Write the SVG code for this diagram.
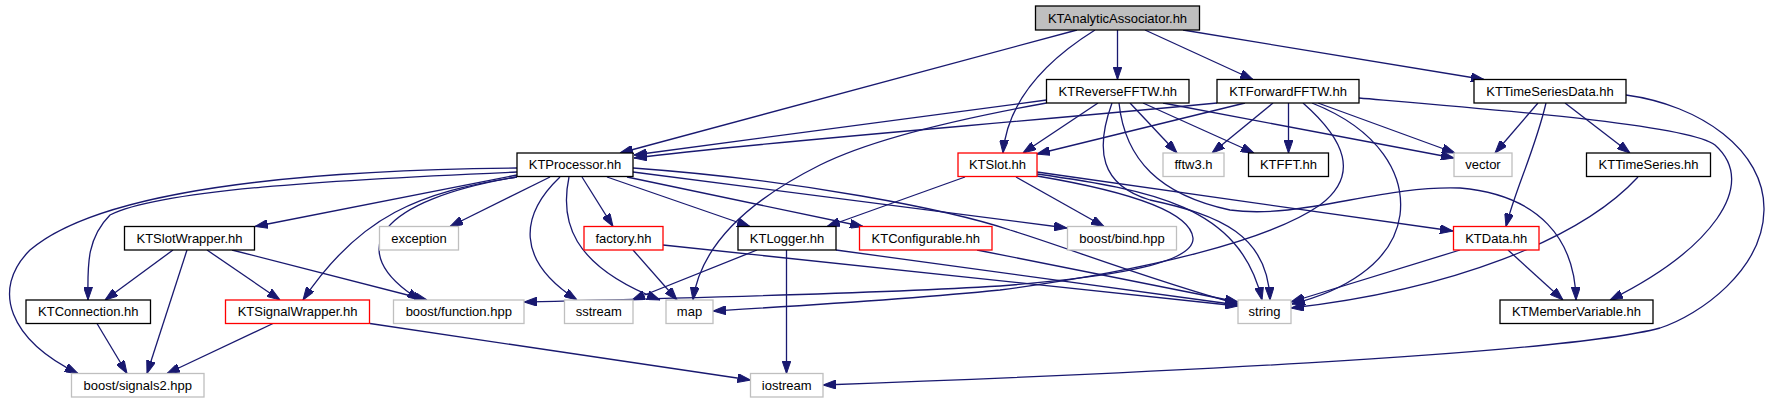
<svg xmlns="http://www.w3.org/2000/svg" width="1770" height="403" viewBox="0 0 1770 403">
<defs>
<marker id="a" viewBox="0 0 13 9" refX="13" refY="4.5" markerWidth="13" markerHeight="9" orient="auto" markerUnits="userSpaceOnUse"><path d="M0,0 L13,4.5 L0,9 Z" fill="#191970" stroke="#191970"/></marker>
<style>
.e path{fill:none;stroke:#191970;stroke-width:1.3;marker-end:url(#a)}
rect{fill:#fff;stroke:#000;stroke-width:1.3}
.g rect{stroke:#bfbfbf}
.r rect{stroke:#ff0000}
.root rect{fill:#bfbfbf;stroke:#000}
text{font-family:"Liberation Sans",Arial,Helvetica,sans-serif;font-size:13px;text-anchor:middle;fill:#000}
</style>
</defs>
<rect x="0" y="0" width="1770" height="403" style="fill:#fff;stroke:none"/>
<g class="e" id="edges">
<path d="M1077,30 L620,153"/>
<path d="M1095,30 C1055,55 1008,95 1003,153"/>
<path d="M1117.5,30 L1117.5,79.5"/>
<path d="M1145,30 L1253,79.5"/>
<path d="M1183,30 L1484,79.5"/>
<path d="M1046.5,100 L634,155"/>
<path d="M1046.5,103 C980,115 880,135 820,165 C740,205 700,250 693,300"/>
<path d="M1098,103 L1023,153"/>
<path d="M1130,103 L1177,153"/>
<path d="M1143,103 L1254,153"/>
<path d="M1163,103 L1454,158"/>
<path d="M1112,103 C1095,150 1100,185 1150,200 C1220,215 1268,235 1270,300"/>
<path d="M1119,103 C1125,160 1160,195 1230,210 C1300,220 1380,185 1460,188 C1540,195 1575,240 1576,300"/>
<path d="M1217,103 C1000,124 760,142 634,158"/>
<path d="M1245,103 L1037,154"/>
<path d="M1273,103 L1212,153"/>
<path d="M1288.5,103 L1288.5,153"/>
<path d="M1318,103 L1455,153"/>
<path d="M1312,103 C1380,130 1405,175 1400,215 C1393,265 1340,292 1292,304"/>
<path d="M1303,103 C1345,140 1360,175 1320,205 C1270,240 1150,270 1000,290 C900,300 780,307 713,311"/>
<path d="M1359,98 C1500,110 1690,125 1715,145 C1760,185 1710,250 1610,300"/>
<path d="M1538,103 L1495,153"/>
<path d="M1546,103 C1535,150 1515,190 1506,226.5"/>
<path d="M1565,103 L1630,153"/>
<path d="M1626,95 C1700,105 1765,150 1764,210 C1763,270 1700,315 1660,328 C1560,355 1100,375 823,385"/>
<path d="M1638,177 C1580,240 1450,290 1291,308"/>
<path d="M1460,250 L1291,302"/>
<path d="M1508,250 L1563,300"/>
<path d="M965,177 L827,226.5"/>
<path d="M1016,177 L1104,226.5"/>
<path d="M1037,172 L1453,231"/>
<path d="M1037,174 C1150,190 1240,205 1262,300"/>
<path d="M1037,176 C1120,190 1190,210 1193,238 C1195,265 1100,278 1000,286 C850,295 600,300 524,302"/>
<path d="M517,168 C300,170 100,190 30,250 C-10,290 10,340 78,373.5"/>
<path d="M517,172 C330,180 160,190 110,215 C85,240 88,270 88,300"/>
<path d="M517,175 L255,226.5"/>
<path d="M517,177 C420,192 360,215 303,300"/>
<path d="M517,177 C380,200 340,250 420,300"/>
<path d="M550,177 L450,226.5"/>
<path d="M560,177 C520,215 515,260 577,300"/>
<path d="M569,177 C560,220 570,265 660,300"/>
<path d="M582,177 L613,226.5"/>
<path d="M607,177 L750,226.5"/>
<path d="M627,177 L863,226.5"/>
<path d="M633,172 L1067,228"/>
<path d="M633,168 C800,180 950,210 1010,230 C1060,245 1150,280 1238,304"/>
<path d="M173,250 L105,300"/>
<path d="M187,250 L147,373.5"/>
<path d="M207,250 L280,300"/>
<path d="M232,250 L427,300"/>
<path d="M97,323.5 L127,373.5"/>
<path d="M273,323.5 L167,373.5"/>
<path d="M370,323.5 L750.5,380"/>
<path d="M633,250 L677,300"/>
<path d="M663,245 L1238,306"/>
<path d="M757,250 L632,300"/>
<path d="M786.5,250 L786.5,373.5"/>
<path d="M836,250 L1238,305"/>
<path d="M977,250 L1238,302"/>
</g>
<g id="n_root" class="root"><rect x="1035.5" y="6" width="164" height="24"/><text x="1117.5" y="22.5">KTAnalyticAssociator.hh</text></g>
<g id="n_rev"><rect x="1046.5" y="79.5" width="142.5" height="23.5"/><text x="1117.75" y="95.8">KTReverseFFTW.hh</text></g>
<g id="n_fwd"><rect x="1217" y="79.5" width="142" height="23.5"/><text x="1288" y="95.8">KTForwardFFTW.hh</text></g>
<g id="n_tsd"><rect x="1474" y="79.5" width="152" height="23.5"/><text x="1550" y="95.8">KTTimeSeriesData.hh</text></g>
<g id="n_proc"><rect x="517" y="153" width="116" height="23.5"/><text x="575" y="169.3">KTProcessor.hh</text></g>
<g id="n_slot" class="r"><rect x="958" y="153" width="79" height="23.5"/><text x="997.5" y="169.3">KTSlot.hh</text></g>
<g id="n_fftw3" class="g"><rect x="1163" y="153" width="61" height="23.5"/><text x="1193.5" y="169.3">fftw3.h</text></g>
<g id="n_fft"><rect x="1248.5" y="153" width="80" height="23.5"/><text x="1288.5" y="169.3">KTFFT.hh</text></g>
<g id="n_vector" class="g"><rect x="1454" y="153" width="58" height="23.5"/><text x="1483" y="169.3">vector</text></g>
<g id="n_ts"><rect x="1586.5" y="153" width="124" height="23.5"/><text x="1648.5" y="169.3">KTTimeSeries.hh</text></g>
<g id="n_slotw"><rect x="124.5" y="226.5" width="130" height="23.5"/><text x="189.5" y="242.8">KTSlotWrapper.hh</text></g>
<g id="n_exc" class="g"><rect x="379.5" y="226.5" width="79" height="23.5"/><text x="419" y="242.8">exception</text></g>
<g id="n_factory" class="r"><rect x="584" y="226.5" width="79" height="23.5"/><text x="623.5" y="242.8">factory.hh</text></g>
<g id="n_logger"><rect x="738" y="226.5" width="98" height="23.5"/><text x="787" y="242.8">KTLogger.hh</text></g>
<g id="n_conf" class="r"><rect x="859.5" y="226.5" width="132.5" height="23.5"/><text x="925.75" y="242.8">KTConfigurable.hh</text></g>
<g id="n_bind" class="g"><rect x="1067.5" y="226.5" width="109" height="23.5"/><text x="1122" y="242.8">boost/bind.hpp</text></g>
<g id="n_data" class="r"><rect x="1453.5" y="226.5" width="85.5" height="23.5"/><text x="1496.25" y="242.8">KTData.hh</text></g>
<g id="n_conn"><rect x="26" y="300" width="124.5" height="23.5"/><text x="88.25" y="316.3">KTConnection.hh</text></g>
<g id="n_sigw" class="r"><rect x="225.5" y="300" width="144" height="23.5"/><text x="297.5" y="316.3">KTSignalWrapper.hh</text></g>
<g id="n_func" class="g"><rect x="393.5" y="300" width="130.5" height="23.5"/><text x="458.75" y="316.3">boost/function.hpp</text></g>
<g id="n_sstream" class="g"><rect x="564.5" y="300" width="68.5" height="23.5"/><text x="598.75" y="316.3">sstream</text></g>
<g id="n_map" class="g"><rect x="666" y="300" width="47" height="23.5"/><text x="689.5" y="316.3">map</text></g>
<g id="n_string" class="g"><rect x="1238" y="300" width="53" height="23.5"/><text x="1264.5" y="316.3">string</text></g>
<g id="n_memvar"><rect x="1500" y="300" width="153" height="23.5"/><text x="1576.5" y="316.3">KTMemberVariable.hh</text></g>
<g id="n_sig2" class="g"><rect x="71.5" y="373.5" width="132.5" height="23.5"/><text x="137.75" y="389.8">boost/signals2.hpp</text></g>
<g id="n_ios" class="g"><rect x="750.5" y="373.5" width="72.5" height="23.5"/><text x="786.75" y="389.8">iostream</text></g>
</svg>
